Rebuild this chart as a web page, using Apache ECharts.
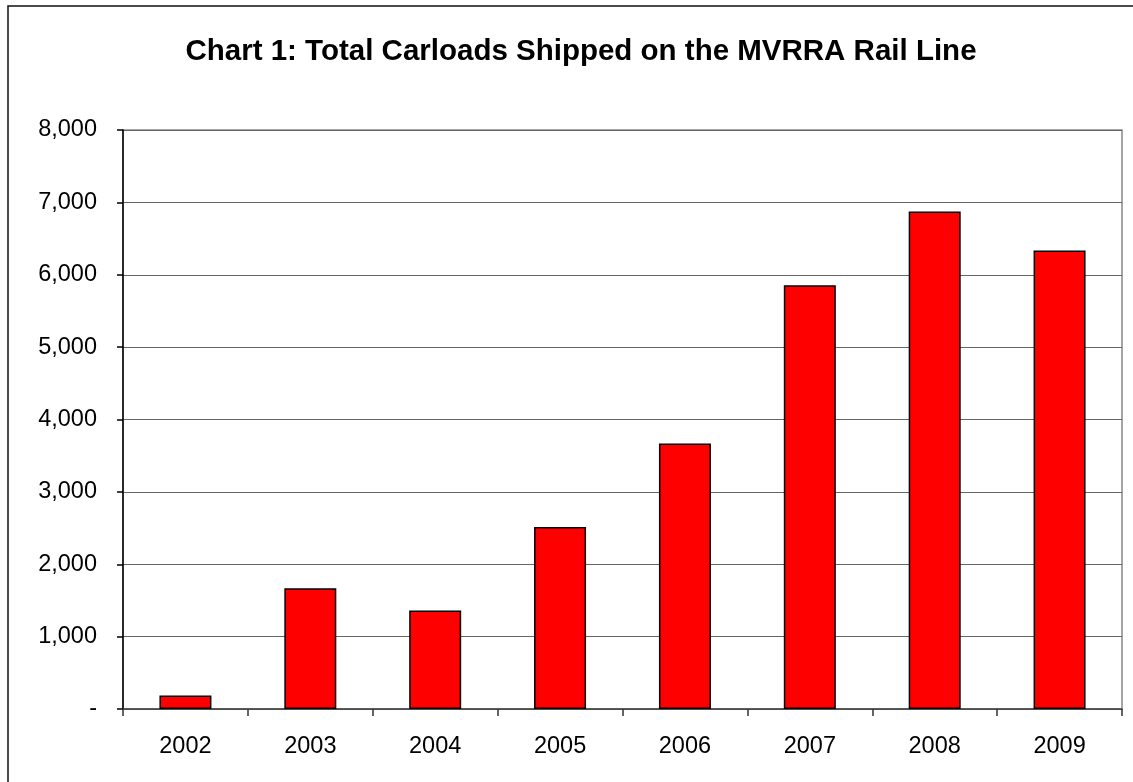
<!DOCTYPE html>
<html>
<head>
<meta charset="utf-8">
<script src="https://cdn.jsdelivr.net/npm/echarts@6/dist/echarts.min.js"></script>
<style>html,body{margin:0;padding:0;background:#fff;}#c{width:1133px;height:782px;}</style>
</head>
<body>
<div id="c"></div>
<script>
const titleText = 'Chart 1: Total Carloads Shipped on the MVRRA Rail Line';
const years = ['2002','2003','2004','2005','2006','2007','2008','2009'];
const carloads = [185, 1670, 1360, 2515, 3670, 5855, 6875, 6335];
const yTicks = {min: 0, max: 8000, interval: 1000};

const chart = echarts.init(document.getElementById('c'), null, {renderer: 'canvas'});
chart.setOption({
  animation: false,
  backgroundColor: '#fff',
  textStyle: {fontFamily: 'Liberation Sans, Arial, sans-serif'},
  title: {
    text: titleText,
    left: 576, top: 32, textAlign: 'center',
    textStyle: {fontFamily: 'Liberation Sans, Arial, sans-serif', fontWeight: 'bold', fontSize: 29.5, color: '#000'}
  },
  graphic: [{
    type: 'rect', silent: true,
    shape: {x: 8, y: 6, width: 1300, height: 900},
    style: {fill: 'none', stroke: '#111', lineWidth: 1.5}
  }],
  grid: {left: 123, right: 11, top: 130, bottom: 73, show: true, borderColor: '#888', borderWidth: 1.5, backgroundColor: 'transparent'},
  xAxis: {
    type: 'category', data: years,
    axisLine: {lineStyle: {color: '#444', width: 1.5}},
    axisTick: {show: true, alignWithLabel: false, length: 7, lineStyle: {color: '#333', width: 1.5}},
    axisLabel: {fontSize: 23.5, color: '#000', margin: 26},
    splitLine: {show: false}
  },
  yAxis: {
    type: 'value', min: yTicks.min, max: yTicks.max, interval: yTicks.interval,
    axisLine: {show: true, lineStyle: {color: '#000', width: 1.5}},
    axisTick: {show: true, length: 6, lineStyle: {color: '#000', width: 1.5}},
    axisLabel: {fontSize: 23.5, color: '#000', margin: 26,
      formatter: v => v === 0 ? '-' : v.toLocaleString('en-US')},
    splitLine: {show: true, lineStyle: {color: '#666', width: 1.2}}
  },
  series: [{
    type: 'bar', data: carloads, barWidth: 52,
    itemStyle: {color: '#ff0000', borderColor: '#000', borderWidth: 1.5}
  }]
});
</script>
</body>
</html>
